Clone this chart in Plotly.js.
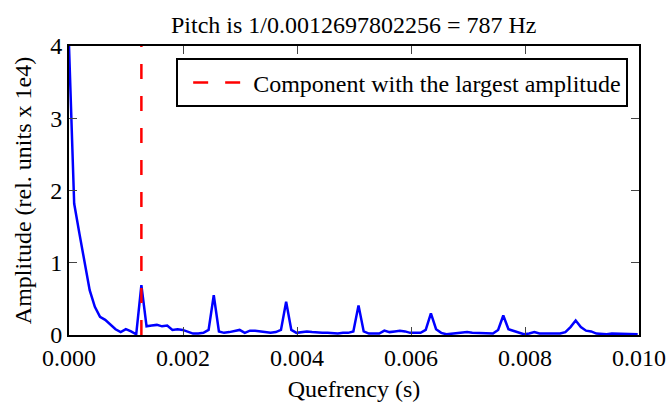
<!DOCTYPE html>
<html>
<head>
<meta charset="utf-8">
<script src="https://cdn.plot.ly/plotly-3.0.1.min.js"></script>
<style>html,body{margin:0;padding:0;background:#fff;}#chart{width:670px;height:403px;}</style>
</head>
<body>
<div id="chart"></div>
<script>
const sampleRate = 11025;
const amplitude = [
  4.0, 1.82, 1.41, 1.0, 0.62, 0.39, 0.25, 0.21, 0.14, 0.08,
  0.04, 0.08, 0.05, 0.01, 0.69, 0.12, 0.13, 0.14, 0.12, 0.13,
  0.07, 0.08, 0.07, 0.05, 0.02, 0.02, 0.03, 0.07, 0.55, 0.05,
  0.03, 0.04, 0.05, 0.07, 0.03, 0.06, 0.06, 0.05, 0.04, 0.03,
  0.04, 0.07, 0.46, 0.07, 0.03, 0.04, 0.05, 0.04, 0.03, 0.03,
  0.03, 0.02, 0.02, 0.03, 0.03, 0.05, 0.41, 0.05, 0.02, 0.02,
  0.02, 0.06, 0.04, 0.05, 0.06, 0.05, 0.03, 0.03, 0.03, 0.07,
  0.30, 0.08, 0.03, 0.01, 0.02, 0.03, 0.03, 0.04, 0.03, 0.03,
  0.03, 0.02, 0.02, 0.07, 0.27, 0.08, 0.06, 0.03, 0.01, 0.02,
  0.04, 0.02, 0.02, 0.02, 0.01, 0.02, 0.04, 0.11, 0.20, 0.11,
  0.06, 0.05, 0.02, 0.01, 0.01, 0.02, 0.02, 0.02, 0.02, 0.02,
  0.01
];
const quefrency = amplitude.map((_, i) => i / sampleRate);
const pitchQuefrency = 0.0012697802256;
const pitchLineY = [0, 4];
const xTicks = [0, 0.002, 0.004, 0.006, 0.008, 0.010];
const xTickLabels = ['0.000', '0.002', '0.004', '0.006', '0.008', '0.010'];
const yTicks = [0, 1, 2, 3, 4];
const yTickLabels = ['0', '1', '2', '3', '4'];
const titleText = 'Pitch is 1/0.0012697802256 = 787 Hz';
const legendText = 'Component with the largest amplitude';

const font = "'Liberation Serif', 'Times New Roman', serif";
const fs = 24;
const traces = [
  {x: quefrency, y: amplitude, type: 'scatter', mode: 'lines',
   line: {color: '#0000ff', width: 2.5}, showlegend: false, hoverinfo: 'skip'},
  {x: [pitchQuefrency, pitchQuefrency], y: pitchLineY, type: 'scatter', mode: 'lines',
   name: legendText, line: {color: '#ff0000', width: 2.5, dash: '15px,17px'}}
];
const axisCommon = {
  showline: true, linecolor: '#000', linewidth: 2, mirror: 'ticks',
  ticks: 'inside', ticklen: 8, tickwidth: 1, tickcolor: '#444',
  showgrid: false, zeroline: false,
  tickfont: {family: font, size: fs, color: '#000'}
};
const layout = {
  width: 670, height: 403,
  margin: {l: 69, r: 31, t: 46, b: 68},
  paper_bgcolor: '#fff', plot_bgcolor: '#fff',
  font: {family: font, color: '#000'},
  title: {text: titleText, font: {family: font, size: fs, color: '#000'},
          x: 0.528, xanchor: 'center', y: 0.94, yanchor: 'middle'},
  xaxis: Object.assign({}, axisCommon, {
    range: [0, 0.010], tickvals: xTicks, ticktext: xTickLabels,
    title: {text: 'Quefrency (s)', font: {family: font, size: fs, color: '#000'}, standoff: 10}
  }),
  yaxis: Object.assign({}, axisCommon, {
    range: [0, 4], tickvals: yTicks, ticktext: yTickLabels,
    title: {text: 'Amplitude (rel. units x 1e4)', font: {family: font, size: fs, color: '#000'}, standoff: 12}
  }),
  legend: {x: 0.981, y: 0.957, xanchor: 'right', yanchor: 'top',
           bordercolor: '#000', borderwidth: 2, bgcolor: '#fff', itemwidth: 65,
           font: {family: font, size: fs, color: '#000'}}
};
function placeLegendLine() {
  document.querySelectorAll('#chart .legend .legendlines path').forEach(p => {
    p.setAttribute('d', 'M15,0h47');
  });
}
Plotly.newPlot('chart', traces, layout, {displayModeBar: false, staticPlot: true}).then(gd => {
  placeLegendLine();
  gd.on('plotly_afterplot', placeLegendLine);
});
</script>
</body>
</html>
